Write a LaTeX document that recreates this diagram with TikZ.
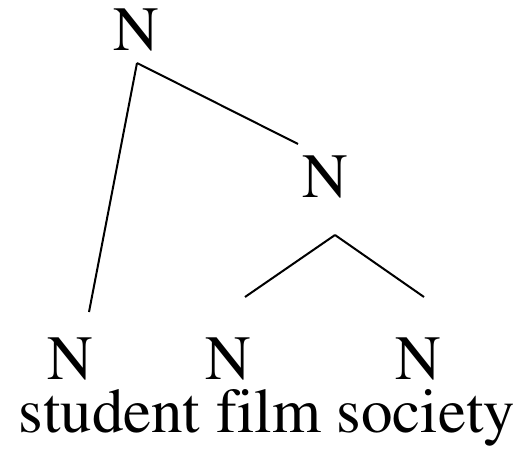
\documentclass[tikz,border=0pt]{standalone}
\usepackage[T1]{fontenc}
\usepackage{mathptmx}
\usetikzlibrary{positioning}

\begin{document}
\begin{tikzpicture}[
    x=1bp, y=-1bp,
    every node/.style={font=\rmfamily\fontsize{63bp}{70bp}\selectfont, inner sep=0pt, anchor=base},
    catNode/.style={text depth=0pt},
    wordNode/.style={text height=42bp},
    branchEdge/.style={draw=black, line width=2bp}
]
    \useasboundingbox (0,0) rectangle (529,467);
    % category labels
    \node [catNode] (root) at (136,51) {N};
    \node [catNode] (mid) at (325,198) {N};
    \node [catNode] (leafA) at (70,379) {N};
    \node [catNode] (leafB) at (228,379) {N};
    \node [catNode] (leafC) at (418,379) {N};
    \node [wordNode] (words) at (267,432) {student f\kern0pt ilm society};

    % branch ends
    \coordinate (rootFoot) at (137,63);
    \coordinate (midHead) at (298,144);
    \coordinate (midFoot) at (335,235);
    \coordinate (leafAHead) at (89,312);
    \coordinate (leafBHead) at (245,297);
    \coordinate (leafCHead) at (424,297);

    \path [branchEdge] (rootFoot) -- (leafAHead);
    \path [branchEdge] (rootFoot) -- (midHead);
    \path [branchEdge] (midFoot) -- (leafBHead);
    \path [branchEdge] (midFoot) -- (leafCHead);
\end{tikzpicture}
\end{document}
